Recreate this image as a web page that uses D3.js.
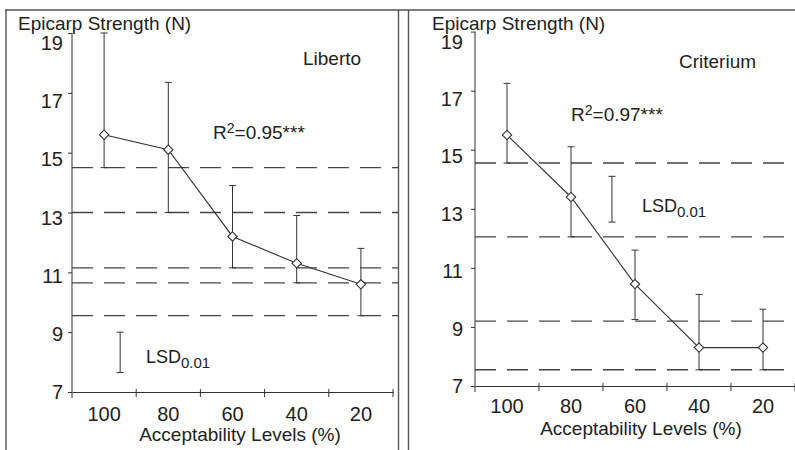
<!DOCTYPE html>
<html>
<head>
<meta charset="utf-8">
<script src="https://cdn.jsdelivr.net/npm/d3@7"></script>
<style>
  body { margin: 0; background: #fff; }
  text { font-family: "Liberation Sans", Arial, sans-serif; fill: #222; }
</style>
</head>
<body>
<script>
/* data */

var levels = ['100', '80', '60', '40', '20'];
var yTicks = [7, 9, 11, 13, 15, 17, 19];

var libertoMean = [15.6, 15.1, 12.2, 11.3, 10.6];
var libertoHigh = [19.0, 17.35, 13.9, 12.9, 11.8];
var libertoLow = [14.5, 13.0, 11.15, 10.65, 9.55];
var libertoLsd = [7.65, 9.0];
var libertoGroups = [14.5, 13.0, 11.15, 10.65, 9.55];

var criteriumMean = [15.5, 13.4, 10.45, 8.3, 8.3];
var criteriumHigh = [17.25, 15.1, 11.6, 10.1, 9.6];
var criteriumLow = [14.55, 12.05, 9.25, 7.55, 7.55];
var criteriumLsd = [12.55, 14.1];
var criteriumGroups = [14.55, 12.05, 9.2, 7.55];


/* canvas */

var width = 795;
var height = 450;

var canvas = d3.select('body').
append('svg').
attr('width', width).
attr('height', height);

// frame lines
var frame = canvas.append('g').
attr('stroke', '#555').
attr('stroke-width', 1.4);

frame.append('line').attr('x1', 5).attr('x2', width).attr('y1', 10).attr('y2', 10);
frame.append('line').attr('x1', 6).attr('x2', 6).attr('y1', 10).attr('y2', height);
frame.append('line').attr('x1', 398.5).attr('x2', 398.5).attr('y1', 10).attr('y2', height);
frame.append('line').attr('x1', 408.5).attr('x2', 408.5).attr('y1', 10).attr('y2', height);


/* panels */

var panels = [
  {
    name: 'Liberto', r2: '0.95',
    mean: libertoMean, high: libertoHigh, low: libertoLow, lsd: libertoLsd, groups: libertoGroups,
    x0: 72, x1: 393, y0: 392, y1: 33, dashEnd: 398,
    lsdBand: '100', lsdFrac: 0.75,
    labelPad: 5, xLabelPad: 15,
    titleX: 18, titleY: 30,
    nameX: 303, nameY: 65,
    r2X: 213, r2Y: 139,
    lsdTextX: 146, lsdTextY: 363,
    axisTitleX: 240, axisTitleY: 441
  },
  {
    name: 'Criterium', r2: '0.97',
    mean: criteriumMean, high: criteriumHigh, low: criteriumLow, lsd: criteriumLsd, groups: criteriumGroups,
    x0: 475, x1: 795, y0: 386, y1: 31.6, dashEnd: 795,
    lsdBand: '60', lsdFrac: 0.14,
    labelPad: 8, xLabelPad: 12.5,
    titleX: 432, titleY: 30,
    nameX: 679, nameY: 68,
    r2X: 571, r2Y: 120.5,
    lsdTextX: 642, lsdTextY: 211.5,
    axisTitleX: 641, axisTitleY: 435
  }
];

panels.forEach(drawPanel);

function drawPanel(p) {

  var x = d3.scaleBand().domain(levels).range([p.x0, p.x1]);
  var y = d3.scaleLinear().domain([7, 19]).range([p.y0, p.y1]);
  var g = canvas.append('g');

  // dashed LSD group lines
  g.selectAll('line.group').
  data(p.groups).
  enter().
  append('line').
  attr('class', 'group').
  attr('x1', p.x0).
  attr('x2', p.dashEnd).
  attr('y1', function (d) {return y(d);}).
  attr('y2', function (d) {return y(d);}).
  attr('stroke', '#444').
  attr('stroke-width', 1.3).
  attr('stroke-dasharray', '21,11');

  // y axis
  var yAxis = g.append('g').
  attr('transform', 'translate(' + p.x0 + ',0)').
  call(d3.axisLeft(y).tickValues(yTicks).tickSize(4).tickSizeOuter(0).tickPadding(p.labelPad));

  yAxis.select('.domain').remove();
  yAxis.selectAll('line').attr('stroke', '#333');
  yAxis.selectAll('text').
  style('font-size', '20px').
  attr('fill', '#222').
  attr('y', function (d) {return (d - 7) * 0.85;});

  g.append('line').
  attr('x1', p.x0).attr('x2', p.x0).
  attr('y1', y(19)).attr('y2', y(7) + 6).
  attr('stroke', '#333');

  // x axis
  var xAxis = g.append('g').
  attr('transform', 'translate(0,' + p.y0 + ')').
  call(d3.axisBottom(x).tickSize(0).tickSizeOuter(0).tickPadding(p.xLabelPad));

  xAxis.select('.domain').attr('stroke', '#333');
  xAxis.selectAll('text').style('font-size', '20px').attr('fill', '#222');

  g.selectAll('line.xtick').
  data(levels).
  enter().
  append('line').
  attr('class', 'xtick').
  attr('x1', function (d) {return x(d) + x.bandwidth();}).
  attr('x2', function (d) {return x(d) + x.bandwidth();}).
  attr('y1', p.y0 - 3).
  attr('y2', p.y0 + 5).
  attr('stroke', '#333');

  var cx = function (d, i) {return x(levels[i]) + x.bandwidth() / 2;};

  // error bars
  var bars = g.selectAll('g.bar').
  data(levels).
  enter().
  append('g').
  attr('class', 'bar').
  attr('stroke', '#333');

  bars.append('line').
  attr('x1', cx).attr('x2', cx).
  attr('y1', function (d, i) {return y(p.low[i]);}).
  attr('y2', function (d, i) {return y(p.high[i]);});

  bars.append('line').
  attr('x1', function (d, i) {return cx(d, i) - 3.5;}).
  attr('x2', function (d, i) {return cx(d, i) + 3.5;}).
  attr('y1', function (d, i) {return y(p.high[i]);}).
  attr('y2', function (d, i) {return y(p.high[i]);});

  bars.append('line').
  attr('x1', function (d, i) {return cx(d, i) - 3.5;}).
  attr('x2', function (d, i) {return cx(d, i) + 3.5;}).
  attr('y1', function (d, i) {return y(p.low[i]);}).
  attr('y2', function (d, i) {return y(p.low[i]);});

  // mean line
  var line = d3.line().
  x(function (d, i) {return cx(d, i);}).
  y(function (d, i) {return y(p.mean[i]);});

  g.append('path').
  datum(levels).
  attr('d', line).
  attr('fill', 'none').
  attr('stroke', '#333').
  attr('stroke-width', 1.1);

  // diamond markers
  g.selectAll('path.marker').
  data(levels).
  enter().
  append('path').
  attr('class', 'marker').
  attr('d', d3.symbol().type(d3.symbolSquare).size(44)).
  attr('transform', function (d, i) {
    return 'translate(' + cx(d, i) + ',' + y(p.mean[i]) + ') rotate(45)';
  }).
  attr('fill', '#fff').
  attr('stroke', '#333').
  attr('stroke-width', 1.1);

  // LSD bar
  var lx = x(p.lsdBand) + x.bandwidth() * p.lsdFrac;
  var lsd = g.append('g').attr('stroke', '#333');
  lsd.append('line').attr('x1', lx).attr('x2', lx).attr('y1', y(p.lsd[0])).attr('y2', y(p.lsd[1]));
  lsd.append('line').attr('x1', lx - 3.5).attr('x2', lx + 3.5).attr('y1', y(p.lsd[0])).attr('y2', y(p.lsd[0]));
  lsd.append('line').attr('x1', lx - 3.5).attr('x2', lx + 3.5).attr('y1', y(p.lsd[1])).attr('y2', y(p.lsd[1]));

  var lsdText = g.append('text').
  attr('x', p.lsdTextX).
  attr('y', p.lsdTextY).
  style('font-size', '18px');
  lsdText.append('tspan').text('LSD');
  lsdText.append('tspan').text('0.01').attr('dy', 5).style('font-size', '15px');

  // texts
  g.append('text').
  attr('x', p.titleX).
  attr('y', p.titleY).
  style('font-size', '19px').
  text('Epicarp Strength (N)');

  g.append('text').
  attr('x', p.nameX).
  attr('y', p.nameY).
  style('font-size', '19px').
  text(p.name);

  var r2 = g.append('text').
  attr('x', p.r2X).
  attr('y', p.r2Y).
  style('font-size', '19px');
  r2.append('tspan').text('R');
  r2.append('tspan').text('2').attr('dy', -6).style('font-size', '14px');
  r2.append('tspan').text('=' + p.r2 + '***').attr('dy', 6);

  g.append('text').
  attr('x', p.axisTitleX).
  attr('y', p.axisTitleY).
  attr('text-anchor', 'middle').
  style('font-size', '19px').
  text('Acceptability Levels (%)');
}
</script>
</body>
</html>
